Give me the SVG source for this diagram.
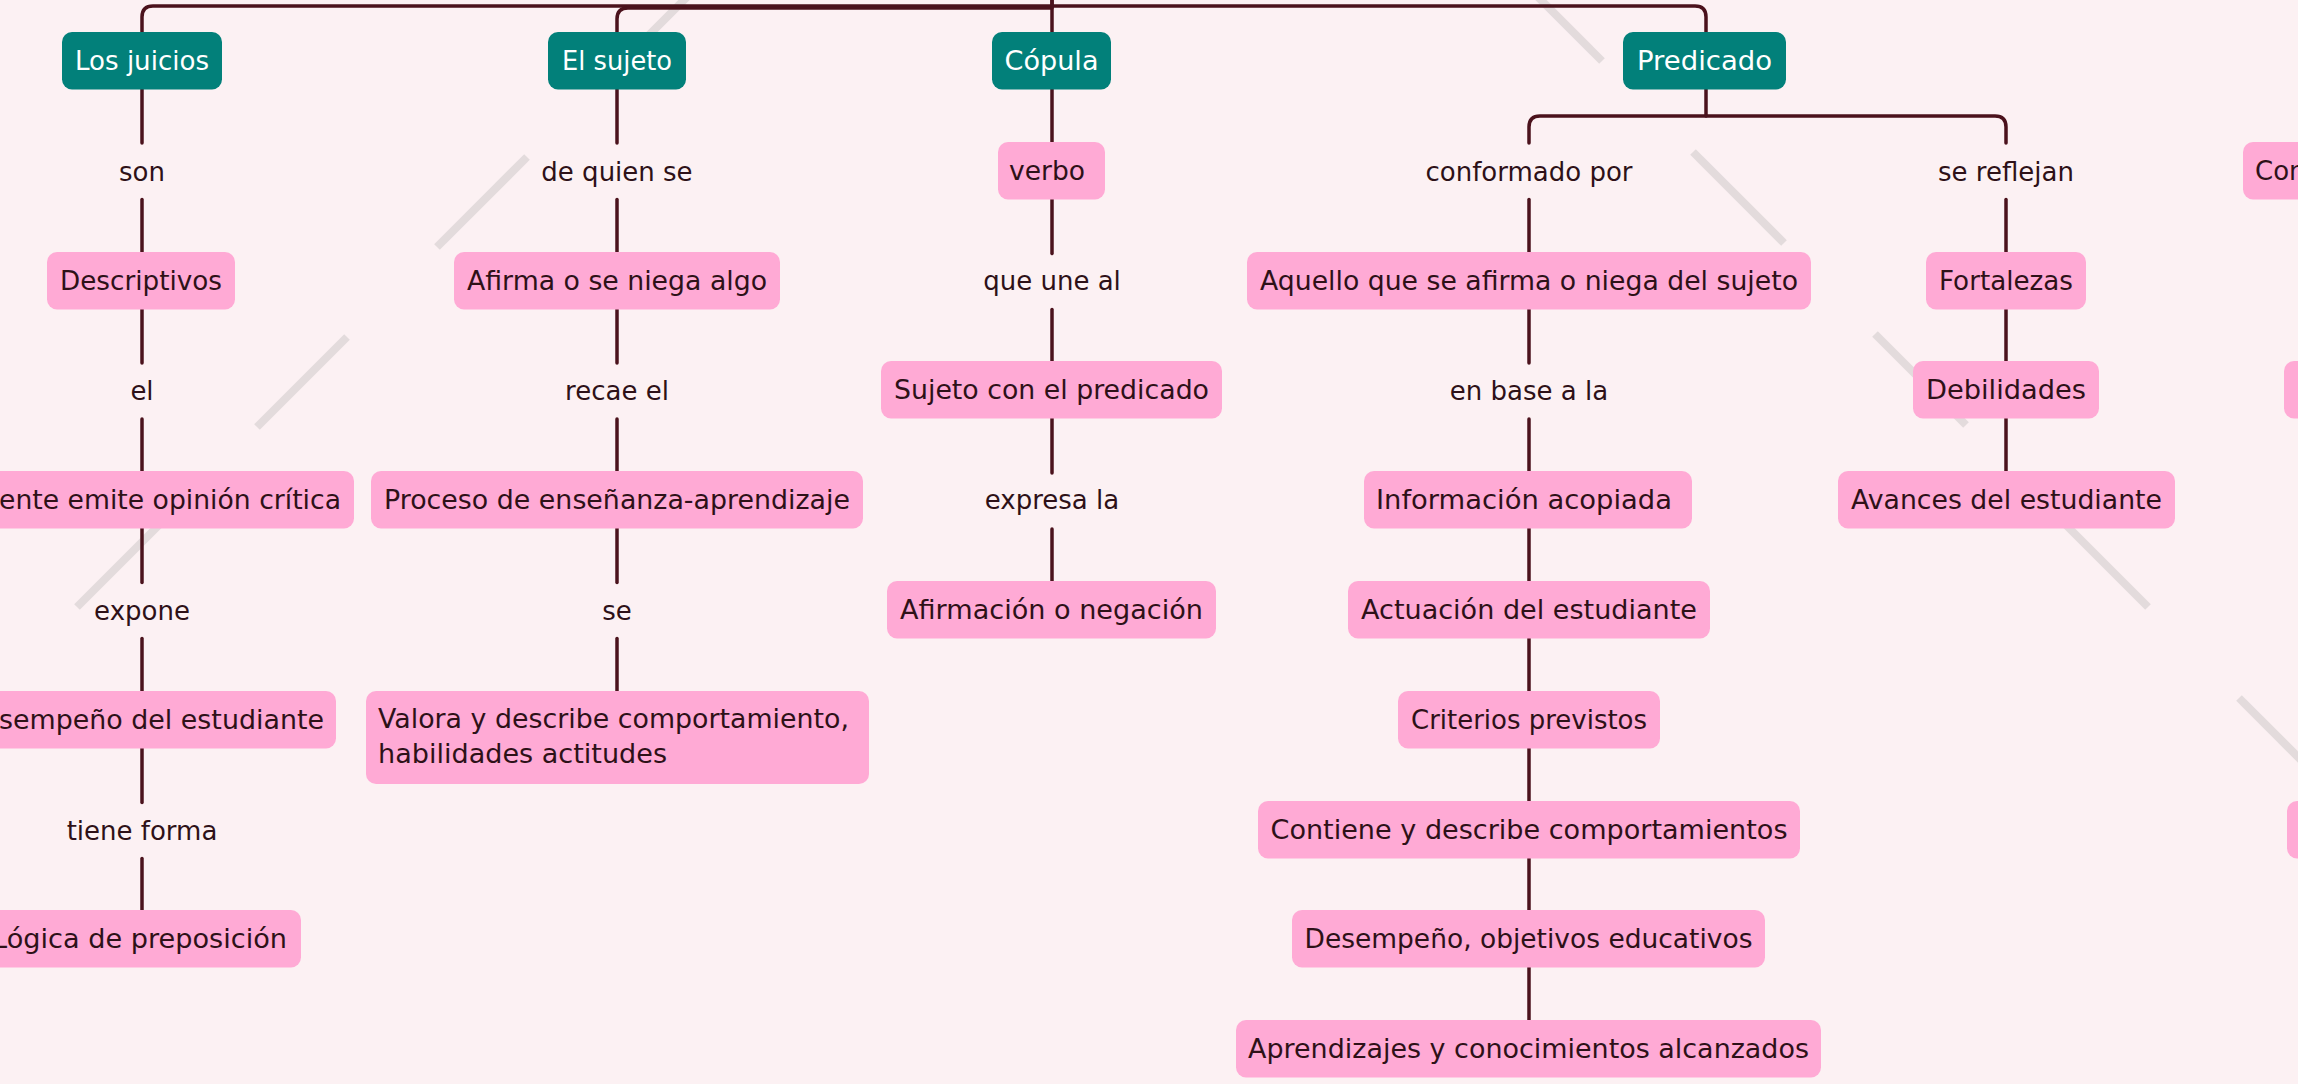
<svg xmlns="http://www.w3.org/2000/svg" width="2298" height="1084" viewBox="0 0 2298 1084">
<style>
.bg{fill:#fcf1f3}
.deco line{stroke:#e3dbdc;stroke-width:8;stroke-linecap:butt}
.conn path,.conn line{stroke:#4b121c;stroke-width:3.5;fill:none;stroke-linecap:round}
.teal rect{fill:#02807a}
.pink rect{fill:#ffaad5}
text{font-family:"DejaVu Sans","Liberation Sans",sans-serif;font-size:26px}
.teal text{fill:#ffffff;text-anchor:middle}
.pink text{fill:#2e1118;text-anchor:middle}
.lbl{fill:#2e1118;text-anchor:middle}
</style>
<rect class="bg" x="0" y="0" width="2298" height="1084"/>
<g class="deco">
<line x1="707" y1="-23" x2="617" y2="67"/>
<line x1="527" y1="157" x2="437" y2="247"/>
<line x1="347" y1="337" x2="257" y2="427"/>
<line x1="167" y1="517" x2="77" y2="607"/>
<line x1="1512" y1="-29" x2="1602" y2="61"/>
<line x1="1693" y1="152" x2="1784" y2="243"/>
<line x1="1875" y1="334" x2="1966" y2="425"/>
<line x1="2057" y1="516" x2="2148" y2="607"/>
<line x1="2239" y1="698" x2="2330" y2="789"/>
</g>
<g id="connectors" class="conn">
<path d="M1052,-5 V6 H153 Q142,6 142,17 V32"/>
<path d="M1052,8 H628 Q617,8 617,19 V32"/>
<path d="M1052,6 H1695 Q1706,6 1706,17 V32"/>
<path d="M1052,-5 V32"/>
<path d="M1706,89 V116"/>
<path d="M1529,143 V127 Q1529,116 1540,116 H1995 Q2006,116 2006,127 V143"/>
<line x1="142" y1="89" x2="142" y2="143"/>
<line x1="142" y1="199.5" x2="142" y2="252"/>
<line x1="142" y1="309" x2="142" y2="363"/>
<line x1="142" y1="419" x2="142" y2="471"/>
<line x1="142" y1="528" x2="142" y2="582.5"/>
<line x1="142" y1="638.5" x2="142" y2="691"/>
<line x1="142" y1="748" x2="142" y2="802.5"/>
<line x1="142" y1="858.5" x2="142" y2="910"/>
<line x1="617" y1="89" x2="617" y2="143"/>
<line x1="617" y1="199.5" x2="617" y2="252"/>
<line x1="617" y1="309" x2="617" y2="363"/>
<line x1="617" y1="419" x2="617" y2="471"/>
<line x1="617" y1="528" x2="617" y2="582.5"/>
<line x1="617" y1="638.5" x2="617" y2="691"/>
<line x1="1052" y1="89" x2="1052" y2="142"/>
<line x1="1052" y1="199" x2="1052" y2="253.5"/>
<line x1="1052" y1="309.5" x2="1052" y2="361"/>
<line x1="1052" y1="418" x2="1052" y2="473"/>
<line x1="1052" y1="529" x2="1052" y2="581"/>
<line x1="1529" y1="199.5" x2="1529" y2="252"/>
<line x1="1529" y1="309" x2="1529" y2="363"/>
<line x1="1529" y1="419" x2="1529" y2="1020"/>
<line x1="2006" y1="199.5" x2="2006" y2="471"/>
</g>
<g id="labels">
<text class="lbl" x="142" y="181">son</text>
<text class="lbl" x="142" y="400">el</text>
<text class="lbl" x="142" y="619.5">expone</text>
<text class="lbl" x="142" y="839.5">tiene forma</text>
<text class="lbl" x="617" y="181">de quien se</text>
<text class="lbl" x="617" y="400">recae el</text>
<text class="lbl" x="617" y="619.5">se</text>
<text class="lbl" x="1052" y="290">que une al</text>
<text class="lbl" x="1052" y="509">expresa la</text>
<text class="lbl" x="1529" y="181">conformado por</text>
<text class="lbl" x="1529" y="400">en base a la</text>
<text class="lbl" x="2006" y="181">se reflejan</text>
</g>
<g id="n_juicios" class="teal"><rect x="62" y="32" width="160" height="57.5" rx="10"/><text x="142" y="70" textLength="134" lengthAdjust="spacingAndGlyphs">Los juicios</text></g>
<g id="n_sujeto" class="teal"><rect x="548" y="32" width="138" height="57.5" rx="10"/><text x="617" y="70" textLength="110" lengthAdjust="spacingAndGlyphs">El sujeto</text></g>
<g id="n_copula" class="teal"><rect x="992" y="32" width="119" height="57.5" rx="10"/><text x="1051.5" y="70" textLength="94" lengthAdjust="spacingAndGlyphs">Cópula</text></g>
<g id="n_predicado" class="teal"><rect x="1623" y="32" width="163" height="57.5" rx="10"/><text x="1704.5" y="70" textLength="135" lengthAdjust="spacingAndGlyphs">Predicado</text></g>
<g id="n_verbo" class="pink"><rect x="998" y="142" width="107" height="57.5" rx="10"/><text x="1047" y="180" textLength="76" lengthAdjust="spacingAndGlyphs">verbo</text></g>
<g id="n_con" class="pink"><rect x="2243" y="142" width="80" height="57.5" rx="10"/><text x="2255" y="180" style="text-anchor:start">Con</text></g>
<g id="n_descriptivos" class="pink"><rect x="47" y="252" width="188" height="57.5" rx="10"/><text x="141" y="290" textLength="162" lengthAdjust="spacingAndGlyphs">Descriptivos</text></g>
<g id="n_afirma" class="pink"><rect x="454" y="252" width="326" height="57.5" rx="10"/><text x="617" y="290" textLength="300" lengthAdjust="spacingAndGlyphs">Afirma o se niega algo</text></g>
<g id="n_aquello" class="pink"><rect x="1247" y="252" width="564" height="57.5" rx="10"/><text x="1529" y="290" textLength="538" lengthAdjust="spacingAndGlyphs">Aquello que se afirma o niega del sujeto</text></g>
<g id="n_fortalezas" class="pink"><rect x="1926" y="252" width="160" height="57.5" rx="10"/><text x="2006" y="290" textLength="134" lengthAdjust="spacingAndGlyphs">Fortalezas</text></g>
<g id="n_sujetopred" class="pink"><rect x="881" y="361" width="341" height="57.5" rx="10"/><text x="1051.5" y="399" textLength="315" lengthAdjust="spacingAndGlyphs">Sujeto con el predicado</text></g>
<g id="n_debilidades" class="pink"><rect x="1913" y="361" width="186" height="57.5" rx="10"/><text x="2006" y="399" textLength="160" lengthAdjust="spacingAndGlyphs">Debilidades</text></g>
<g id="n_right1" class="pink"><rect x="2284" y="361" width="40" height="57.5" rx="10"/></g>
<g id="n_docente" class="pink"><rect x="-70" y="471" width="424" height="57.5" rx="10"/><text x="-1" y="509" style="text-anchor:start" textLength="342" lengthAdjust="spacingAndGlyphs">ente emite opinión crítica</text></g>
<g id="n_proceso" class="pink"><rect x="371" y="471" width="492" height="57.5" rx="10"/><text x="617" y="509" textLength="466" lengthAdjust="spacingAndGlyphs">Proceso de enseñanza-aprendizaje</text></g>
<g id="n_informacion" class="pink"><rect x="1364" y="471" width="328" height="57.5" rx="10"/><text x="1524" y="509" textLength="296" lengthAdjust="spacingAndGlyphs">Información acopiada</text></g>
<g id="n_avances" class="pink"><rect x="1838" y="471" width="337" height="57.5" rx="10"/><text x="2006.5" y="509" textLength="311" lengthAdjust="spacingAndGlyphs">Avances del estudiante</text></g>
<g id="n_afirmacion" class="pink"><rect x="887" y="581" width="329" height="57.5" rx="10"/><text x="1051.5" y="619" textLength="303" lengthAdjust="spacingAndGlyphs">Afirmación o negación</text></g>
<g id="n_actuacion" class="pink"><rect x="1348" y="581" width="362" height="57.5" rx="10"/><text x="1529" y="619" textLength="336" lengthAdjust="spacingAndGlyphs">Actuación del estudiante</text></g>
<g id="n_desempeno" class="pink"><rect x="-52" y="691" width="388" height="57.5" rx="10"/><text x="-1" y="729" style="text-anchor:start" textLength="325" lengthAdjust="spacingAndGlyphs">sempeño del estudiante</text></g>
<g id="n_valora" class="pink"><rect x="366" y="691" width="503" height="93" rx="10"/><text x="378" y="728" style="text-anchor:start" textLength="471" lengthAdjust="spacingAndGlyphs">Valora y describe comportamiento,</text><text x="378" y="763" style="text-anchor:start" textLength="289" lengthAdjust="spacingAndGlyphs">habilidades actitudes</text></g>
<g id="n_criterios" class="pink"><rect x="1398" y="691" width="262" height="57.5" rx="10"/><text x="1529" y="729" textLength="236" lengthAdjust="spacingAndGlyphs">Criterios previstos</text></g>
<g id="n_contiene" class="pink"><rect x="1258" y="801" width="542" height="57.5" rx="10"/><text x="1529" y="839" textLength="517" lengthAdjust="spacingAndGlyphs">Contiene y describe comportamientos</text></g>
<g id="n_right2" class="pink"><rect x="2287" y="801" width="40" height="57.5" rx="10"/></g>
<g id="n_logica" class="pink"><rect x="-17" y="910" width="318" height="57.5" rx="10"/><text x="-8" y="948" style="text-anchor:start" textLength="295" lengthAdjust="spacingAndGlyphs">Lógica de preposición</text></g>
<g id="n_desempeno2" class="pink"><rect x="1292" y="910" width="473" height="57.5" rx="10"/><text x="1528.5" y="948" textLength="448" lengthAdjust="spacingAndGlyphs">Desempeño, objetivos educativos</text></g>
<g id="n_aprendizajes" class="pink"><rect x="1236" y="1020" width="585" height="57.5" rx="10"/><text x="1528.5" y="1058" textLength="561" lengthAdjust="spacingAndGlyphs">Aprendizajes y conocimientos alcanzados</text></g>
</svg>
